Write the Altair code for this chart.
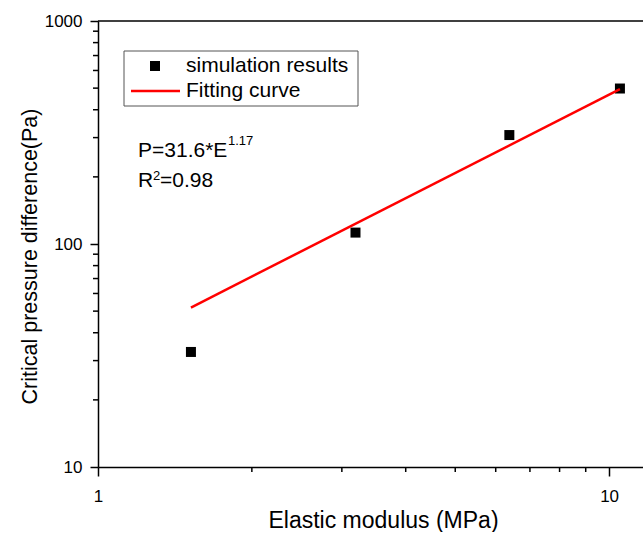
import altair as alt
import pandas as pd

# ---- data ----
E_sim = [1.52, 3.19, 6.38, 10.5]
P_sim = [32.8, 112.5, 308, 498]
E_fit = [1.52, 10.5]
P_fit = [51.9, 495]

x_major = [1, 10]
x_minor = [2, 3, 4, 5, 6, 7, 8, 9]
y_major = [10, 100, 1000]
y_minor = [20, 30, 40, 50, 60, 70, 80, 90, 200, 300, 400, 500, 600, 700, 800, 900]

legend_labels = ["simulation results", "Fitting curve"]
eq_main = "P=31.6*E"
eq_exp = "1.17"
r_main = "R"
r_exp = "2"
r_rest = "=0.98"
X_TITLE = "Elastic modulus (MPa)"
Y_TITLE = "Critical pressure difference(Pa)"

W, H = 545, 446
FONT = "Liberation Sans"

xscale = alt.Scale(type="log", domain=[1, 11.65], nice=False)
yscale = alt.Scale(type="log", domain=[10, 1000], nice=False)

sim = pd.DataFrame({"E": E_sim, "P": P_sim})
fit = pd.DataFrame({"E": E_fit, "P": P_fit})
one = pd.DataFrame({"a": [0]})

xaxis = alt.Axis(values=x_major, format="d", title=X_TITLE, tickSize=9,
                 labelPadding=12, labelFlush=False, labelOverlap=False,
                 titleFontSize=23,
                 titleX=285, titleY=60, titleBaseline="alphabetic", grid=False)
yaxis = alt.Axis(values=y_major, format="d", title=Y_TITLE, tickSize=8,
                 labelPadding=8, labelFlush=False, labelOverlap=False,
                 titleFontSize=21.5,
                 titleX=-62, titleY=235, titleBaseline="alphabetic", grid=False)

points = alt.Chart(sim).mark_point(shape="square", filled=True, size=100,
                                   color="black", opacity=1).encode(
    x=alt.X("E:Q", scale=xscale, axis=xaxis),
    y=alt.Y("P:Q", scale=yscale, axis=yaxis),
)

line = alt.Chart(fit).mark_line(color="#ff0000", strokeWidth=2.5).encode(
    x=alt.X("E:Q", scale=xscale, axis=xaxis),
    y=alt.Y("P:Q", scale=yscale, axis=yaxis),
)

xmin_ticks = alt.Chart(pd.DataFrame({"E": x_minor})).mark_rule(
    color="black", strokeWidth=1.5).encode(
    x=alt.X("E:Q", scale=xscale, axis=xaxis),
    y=alt.value(H), y2=alt.value(H + 5),
)
ymin_ticks = alt.Chart(pd.DataFrame({"P": y_minor})).mark_rule(
    color="black", strokeWidth=1.5).encode(
    y=alt.Y("P:Q", scale=yscale, axis=yaxis),
    x=alt.value(-5), x2=alt.value(0),
)

top_line = alt.Chart(one).mark_rule(color="black", strokeWidth=1.5).encode(
    x=alt.value(0), x2=alt.value(W), y=alt.value(0))

legend_box = alt.Chart(one).mark_rect(fill="white", stroke="#555555",
                                      strokeWidth=1).encode(
    x=alt.value(26), x2=alt.value(260), y=alt.value(30), y2=alt.value(85))
legend_sq = alt.Chart(one).mark_point(shape="square", filled=True, size=100,
                                      color="black", opacity=1).encode(
    x=alt.value(57), y=alt.value(45))
legend_ln = alt.Chart(one).mark_rule(color="#ff0000", strokeWidth=2.5).encode(
    x=alt.value(33), x2=alt.value(82), y=alt.value(70))
legend_t1 = alt.Chart(one).mark_text(text=legend_labels[0], font=FONT, fontSize=21,
                                     align="left", baseline="middle", color="black").encode(
    x=alt.value(88), y=alt.value(45))
legend_t2 = alt.Chart(one).mark_text(text=legend_labels[1], font=FONT, fontSize=21,
                                     align="left", baseline="middle", color="black").encode(
    x=alt.value(88), y=alt.value(70))

def txt(s, x, y, size):
    return alt.Chart(one).mark_text(text=s, font=FONT, fontSize=size, align="left",
                                    baseline="alphabetic", color="black").encode(
        x=alt.value(x), y=alt.value(y))

eq = [txt(eq_main, 40, 136, 21), txt(eq_exp, 130, 124, 13),
      txt(r_main, 40, 166, 21), txt(r_exp, 55, 159, 13), txt(r_rest, 62, 166, 21)]

chart = alt.layer(
    points, line, xmin_ticks, ymin_ticks, top_line,
    legend_box, legend_sq, legend_ln, legend_t1, legend_t2, *eq
).properties(
    width=W, height=H,
    autosize=alt.AutoSizeParams(type="none"),
    padding={"left": 98, "top": 21, "right": 0, "bottom": 65},
).configure_view(stroke=None).configure_axis(
    domainColor="black", tickColor="black", labelColor="black", titleColor="black",
    labelFont=FONT, titleFont=FONT, labelFontSize=17, titleFontSize=21,
    titleFontWeight="normal", domainWidth=1.5, tickWidth=1.5,
)

chart.save("out.html", embed_options={"renderer": "svg", "actions": False})
